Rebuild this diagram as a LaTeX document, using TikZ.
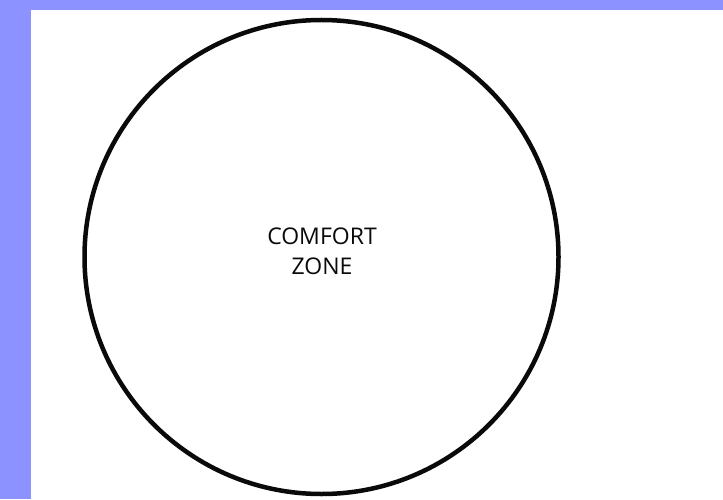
\documentclass[tikz,border=0pt]{standalone}
\usepackage{fontspec}
\setsansfont{Open Sans}
\usepackage{tikz}
\usetikzlibrary{positioning}
\definecolor{BandBlue}{RGB}{140,146,255}
\definecolor{ZoneBlack}{RGB}{10,10,10}
\tikzset{
  zonecircle/.style={draw=ZoneBlack,circle,line width=4.5pt,minimum size=474pt,inner sep=0pt},
  zonelabel/.style={align=center,font=\sffamily\fontsize{23}{30}\selectfont,text=ZoneBlack}
}

\begin{document}
\begin{tikzpicture}[x=1pt,y=1pt]
% frame: blue band on top and left
\fill[BandBlue] (0,0) rectangle (723,499);
\fill[white] (31,0) rectangle (723,489);
\useasboundingbox (0,0) rectangle (723,499);

\node[zonecircle] (zone) at (321.5,242) {};
\node[zonelabel] (zonetext) at (322,248) {COMFORT\\ZONE};
\end{tikzpicture}
\end{document}
